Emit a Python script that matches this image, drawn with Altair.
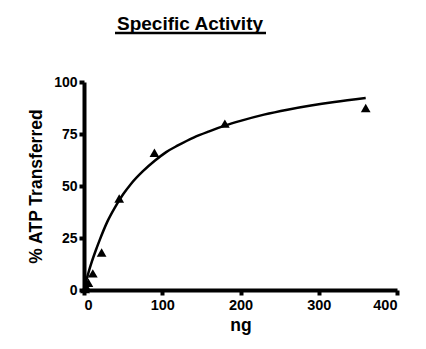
import altair as alt
import pandas as pd

# measured points
pt_x = [1.4, 2.8, 5.6, 11.25, 22.5, 45, 90, 180, 360]
pt_y = [0.5, 1.5, 3.5, 8, 18, 44, 66, 80, 87.5]

# fitted curve
cv_x = [1, 3, 6, 10, 15, 20, 30, 40, 50, 60, 75, 90, 105, 120, 140, 160, 180, 200, 230, 260, 290, 320, 360]
cv_y = [1.6, 4.6, 8.7, 13.6, 19, 24, 33, 40, 46, 51, 57, 62, 66.3, 69.5, 73.3, 76.3, 79, 81.3, 84.3, 86.7, 88.7, 90.4, 92.3]

pts = pd.DataFrame({"x": pt_x, "y": pt_y})
cv = pd.DataFrame({"x": cv_x, "y": cv_y})
title_df = pd.DataFrame({"t": ["Specific Activity"]})

FONT = "Liberation Sans"

xs = alt.X("x:Q", scale=alt.Scale(domain=[0, 400], nice=False),
           axis=alt.Axis(values=[0, 100, 200, 300, 400], title="ng", grid=False,
                         domainWidth=4, domainColor="black", tickWidth=4, tickColor="black",
                         tickSize=5, labelFont=FONT, labelFontWeight="bold", labelFontSize=14.5,
                         labelColor="black", titleFont=FONT, titleFontWeight="bold",
                         titleFontSize=17.5, titleColor="black", titlePadding=5, labelPadding=3))
ys = alt.Y("y:Q", scale=alt.Scale(domain=[0, 100], nice=False),
           axis=alt.Axis(values=[0, 25, 50, 75, 100], title="% ATP Transferred", grid=False,
                         domainWidth=4, domainColor="black", tickWidth=4, tickColor="black",
                         tickSize=5, labelFont=FONT, labelFontWeight="bold", labelFontSize=14,
                         labelColor="black", titleFont=FONT, titleFontWeight="bold",
                         titleFontSize=17.5, titleColor="black", titlePadding=8, labelPadding=2))

line = alt.Chart(cv).mark_line(color="black", strokeWidth=2.5, interpolate="monotone").encode(x=xs, y=ys)
points = alt.Chart(pts).mark_point(shape="triangle-up", filled=True, color="black", opacity=1, size=95).encode(x="x:Q", y="y:Q")

title_text = alt.Chart(title_df).mark_text(font=FONT, fontWeight="bold", fontSize=19, color="black",
                                           align="center", baseline="alphabetic").encode(
    text="t:N", x=alt.value(106), y=alt.value(-52))
underline = alt.Chart(title_df).mark_rule(color="black", strokeWidth=2.5).encode(
    x=alt.value(31), x2=alt.value(182), y=alt.value(-49))

chart = alt.layer(line, points, title_text, underline).properties(
    width=313, height=208,
    autosize=alt.AutoSizeParams(type="none"),
    padding={"left": 84, "top": 82, "right": 29, "bottom": 59},
).configure_view(stroke=None)

chart.save("out.html", embed_options={"renderer": "svg", "actions": False})
